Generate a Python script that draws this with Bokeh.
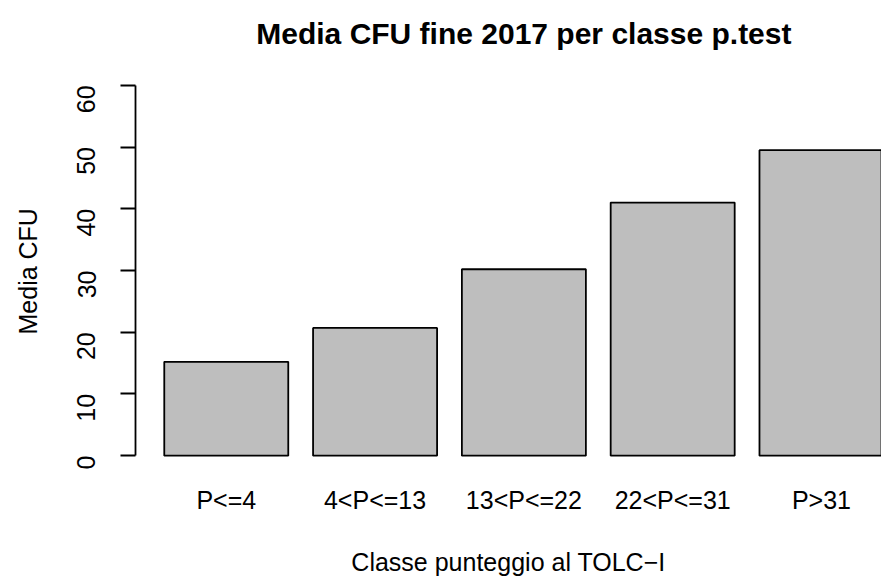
import math
from bokeh.plotting import figure
from bokeh.models import Range1d, LinearAxis, FixedTicker, ColumnDataSource, Label, Title
from bokeh.embed import file_html
from bokeh.resources import INLINE

categories = ["P<=4", "4<P<=13", "13<P<=22", "22<P<=31", "P>31"]
media_cfu = [15.2, 20.7, 30.2, 41.0, 49.5]
y_ticks = [0, 10, 20, 30, 40, 50, 60]
title_text = "Media CFU fine 2017 per classe p.test"
x_label = "Classe punteggio al TOLC\u2212I"
y_label = "Media CFU"

bar_width = 1.0
bar_space = 0.2
centers = [round(bar_space * (i + 1) + bar_width * i + bar_width / 2, 3) for i in range(len(categories))]

FONT = "Liberation Sans"
FS = "25px"

src = ColumnDataSource(dict(x=centers, top=media_cfu, cat=categories))

# frame spans whole top of canvas so that the title label (inside the frame) is drawn
p = figure(width=881, height=580, title=None,
           x_range=Range1d(-0.032, 5.984), y_range=Range1d(-2.4, 73.74),
           output_backend="svg", toolbar_location=None,
           x_axis_type=None, y_axis_type=None,
           min_border_left=135, min_border_right=0,
           min_border_top=0, min_border_bottom=110)
p.outline_line_color = None
p.background_fill_color = "white"
p.border_fill_color = "white"
p.grid.visible = False

p.vbar(x="x", top="top", bottom=0, width=bar_width, source=src,
       fill_color="#BEBEBE", line_color="black", line_width=1.8)

yaxis = LinearAxis(ticker=FixedTicker(ticks=y_ticks), bounds=(0, 60))
yaxis.axis_line_width = 1.8
yaxis.major_tick_line_width = 1.8
yaxis.major_tick_out = 15
yaxis.major_tick_in = 0
yaxis.minor_tick_line_color = None
yaxis.major_label_orientation = math.pi / 2
yaxis.major_label_standoff = 34
yaxis.major_label_text_font = FONT
yaxis.major_label_text_font_size = FS
yaxis.major_label_text_color = "black"
p.add_layout(yaxis, "left")

# invisible spacer axis (hidden tick, blank label) to push the y title outward
spacer = LinearAxis(ticker=FixedTicker(ticks=[0]), major_label_overrides={0: ""})
spacer.axis_line_color = None
spacer.major_tick_line_color = None
spacer.minor_tick_line_color = None
spacer.major_tick_out = 10
spacer.major_tick_in = 0
spacer.minor_tick_out = 0
spacer.major_label_standoff = 0
spacer.major_label_text_font_size = "1px"
spacer.major_label_text_color = None
p.add_layout(spacer, "left")

ytitle = Title(text=y_label, align="left", offset=136, standoff=24,
               vertical_align="top", text_font=FONT, text_font_size=FS,
               text_font_style="normal", text_color="black")
p.add_layout(ytitle, "left")

xaxis = LinearAxis(ticker=FixedTicker(ticks=centers),
                   major_label_overrides={c: lab for c, lab in zip(centers, categories)},
                   axis_label=x_label)
xaxis.axis_line_color = None
xaxis.major_tick_line_color = None
xaxis.minor_tick_line_color = None
xaxis.major_tick_out = 0
xaxis.major_tick_in = 0
xaxis.major_label_standoff = 15
xaxis.major_label_text_font = FONT
xaxis.major_label_text_font_size = FS
xaxis.major_label_text_color = "black"
xaxis.axis_label_text_font = FONT
xaxis.axis_label_text_font_size = FS
xaxis.axis_label_text_font_style = "normal"
xaxis.axis_label_text_color = "black"
xaxis.axis_label_standoff = 31
p.add_layout(xaxis, "below")

title = Label(x=(centers[0] + centers[-1]) / 2, y=437, x_units="data", y_units="screen",
              text=title_text, text_font=FONT, text_font_size="30px",
              text_font_style="bold", text_color="black",
              text_align="center", text_baseline="alphabetic")
p.add_layout(title)

open("out.html", "w").write(file_html(p, INLINE))
